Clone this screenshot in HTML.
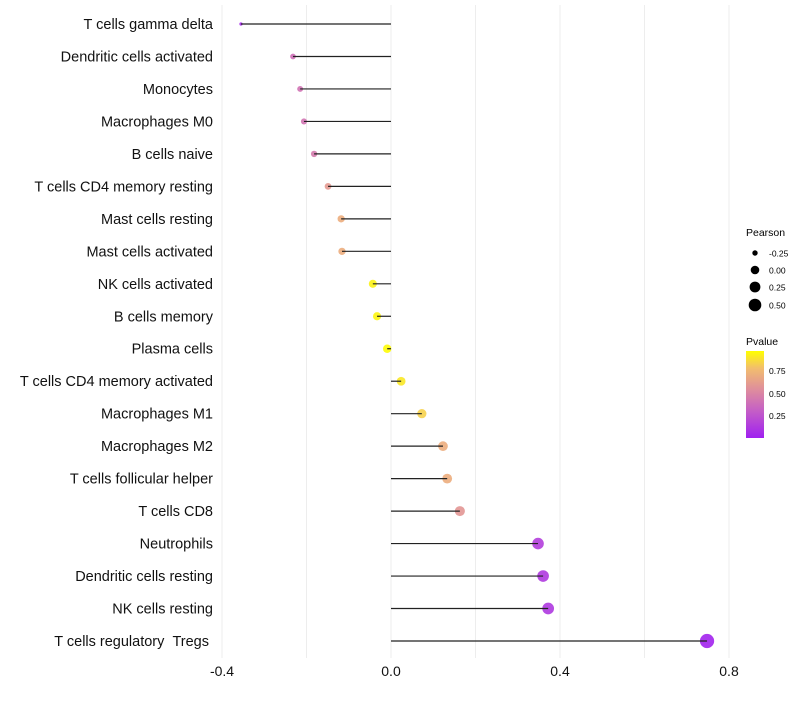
<!DOCTYPE html>
<html><head><meta charset="utf-8"><style>
body{margin:0;background:#fff;font-family:"Liberation Sans",sans-serif}
</style></head><body>
<svg id="chart" width="800" height="700" xmlns="http://www.w3.org/2000/svg">
<defs><linearGradient id="pg" x1="0" y1="1" x2="0" y2="0">
<stop offset="0" stop-color="#A020F0"/><stop offset="0.3" stop-color="#C35CC8"/><stop offset="0.55" stop-color="#DE8C9E"/><stop offset="0.8" stop-color="#F2BD6E"/><stop offset="1" stop-color="#FFFF00"/></linearGradient></defs>
<g id="grid"></g><g id="points"></g><g id="stems"></g><g id="labels"></g>
<g font-size="10">
<text x="746" y="236" font-size="10.5">Pearson</text>
<circle cx="755" cy="253" r="2.7"/><text x="769" y="256.5" font-size="8.5">-0.25</text>
<circle cx="755" cy="270" r="4.3"/><text x="769" y="273.5" font-size="8.5">0.00</text>
<circle cx="755" cy="287" r="5.4"/><text x="769" y="290.5" font-size="8.5">0.25</text>
<circle cx="755" cy="305" r="6.3"/><text x="769" y="308.5" font-size="8.5">0.50</text>
</g>
<g>
<text x="746" y="345" font-size="10.5">Pvalue</text>
<rect x="746" y="351" width="18" height="87" fill="url(#pg)"/>
<text x="769" y="374" font-size="8.5">0.75</text>
<text x="769" y="397" font-size="8.5">0.50</text>
<text x="769" y="419" font-size="8.5">0.25</text>
</g>
</svg>
<script>
const categories=["T cells gamma delta","Dendritic cells activated","Monocytes","Macrophages M0","B cells naive","T cells CD4 memory resting","Mast cells resting","Mast cells activated","NK cells activated","B cells memory","Plasma cells","T cells CD4 memory activated","Macrophages M1","Macrophages M2","T cells follicular helper","T cells CD8","Neutrophils","Dendritic cells resting","NK cells resting","T cells regulatory \u00a0Tregs\u00a0"];
const pearson=[-0.355,-0.232,-0.215,-0.206,-0.182,-0.149,-0.118,-0.116,-0.043,-0.033,-0.009,0.024,0.073,0.123,0.133,0.163,0.348,0.36,0.372,0.748];
const pvalue=[0.03,0.4,0.42,0.43,0.46,0.62,0.72,0.72,0.96,0.97,0.99,0.93,0.86,0.72,0.72,0.6,0.15,0.13,0.12,0.02];
const xTicks=[-0.4,0.0,0.4,0.8];
const xTickLabels=["-0.4","0.0","0.4","0.8"];
const NS="http://www.w3.org/2000/svg";
const xs=v=>391+v*422.5;
const ys=i=>24+i*(641-24)/(categories.length-1);
const rs=v=>Math.sqrt(Math.max(0.5,18.2+43.6*v));
const stops=[[0,[160,32,240]],[0.3,[195,92,200]],[0.55,[222,140,158]],[0.8,[242,189,110]],[1,[255,255,0]]];
function col(p){for(let k=1;k<stops.length;k++){if(p<=stops[k][0]){const a=stops[k-1],b=stops[k],t=(p-a[0])/(b[0]-a[0]);return "rgb("+a[1].map((c,j)=>Math.round(c+(b[1][j]-c)*t)).join(",")+")";}}return "rgb(255,255,0)";}
function mk(t,a,parent){const e=document.createElementNS(NS,t);for(const k in a)e.setAttribute(k,a[k]);parent.appendChild(e);return e;}
const grid=document.getElementById("grid"),points=document.getElementById("points"),stems=document.getElementById("stems"),labels=document.getElementById("labels");
for(let v=-0.4;v<=0.81;v+=0.2){const l=mk("line",{x1:xs(v),x2:xs(v),y1:5,y2:658,stroke:"#ebebeb","stroke-width":0.9},grid);

}
xTicks.forEach((v,i)=>{const t=mk("text",{x:xs(v),y:676,"text-anchor":"middle","font-size":14,fill:"#111"},labels);t.textContent=xTickLabels[i];

});
categories.forEach((c,i)=>{const y=ys(i);
const t=mk("text",{x:213,y:y+5,"text-anchor":"end","font-size":14.5,fill:"#111"},labels);t.textContent=c;


const d=mk("circle",{cx:xs(pearson[i]),cy:y,r:rs(pearson[i]),fill:col(pvalue[i]),"fill-opacity":0.9},points);


const l=mk("line",{x1:xs(0),x2:xs(pearson[i]),y1:y,y2:y,stroke:"#222","stroke-width":1.2},stems);

});
</script>
</body></html>
